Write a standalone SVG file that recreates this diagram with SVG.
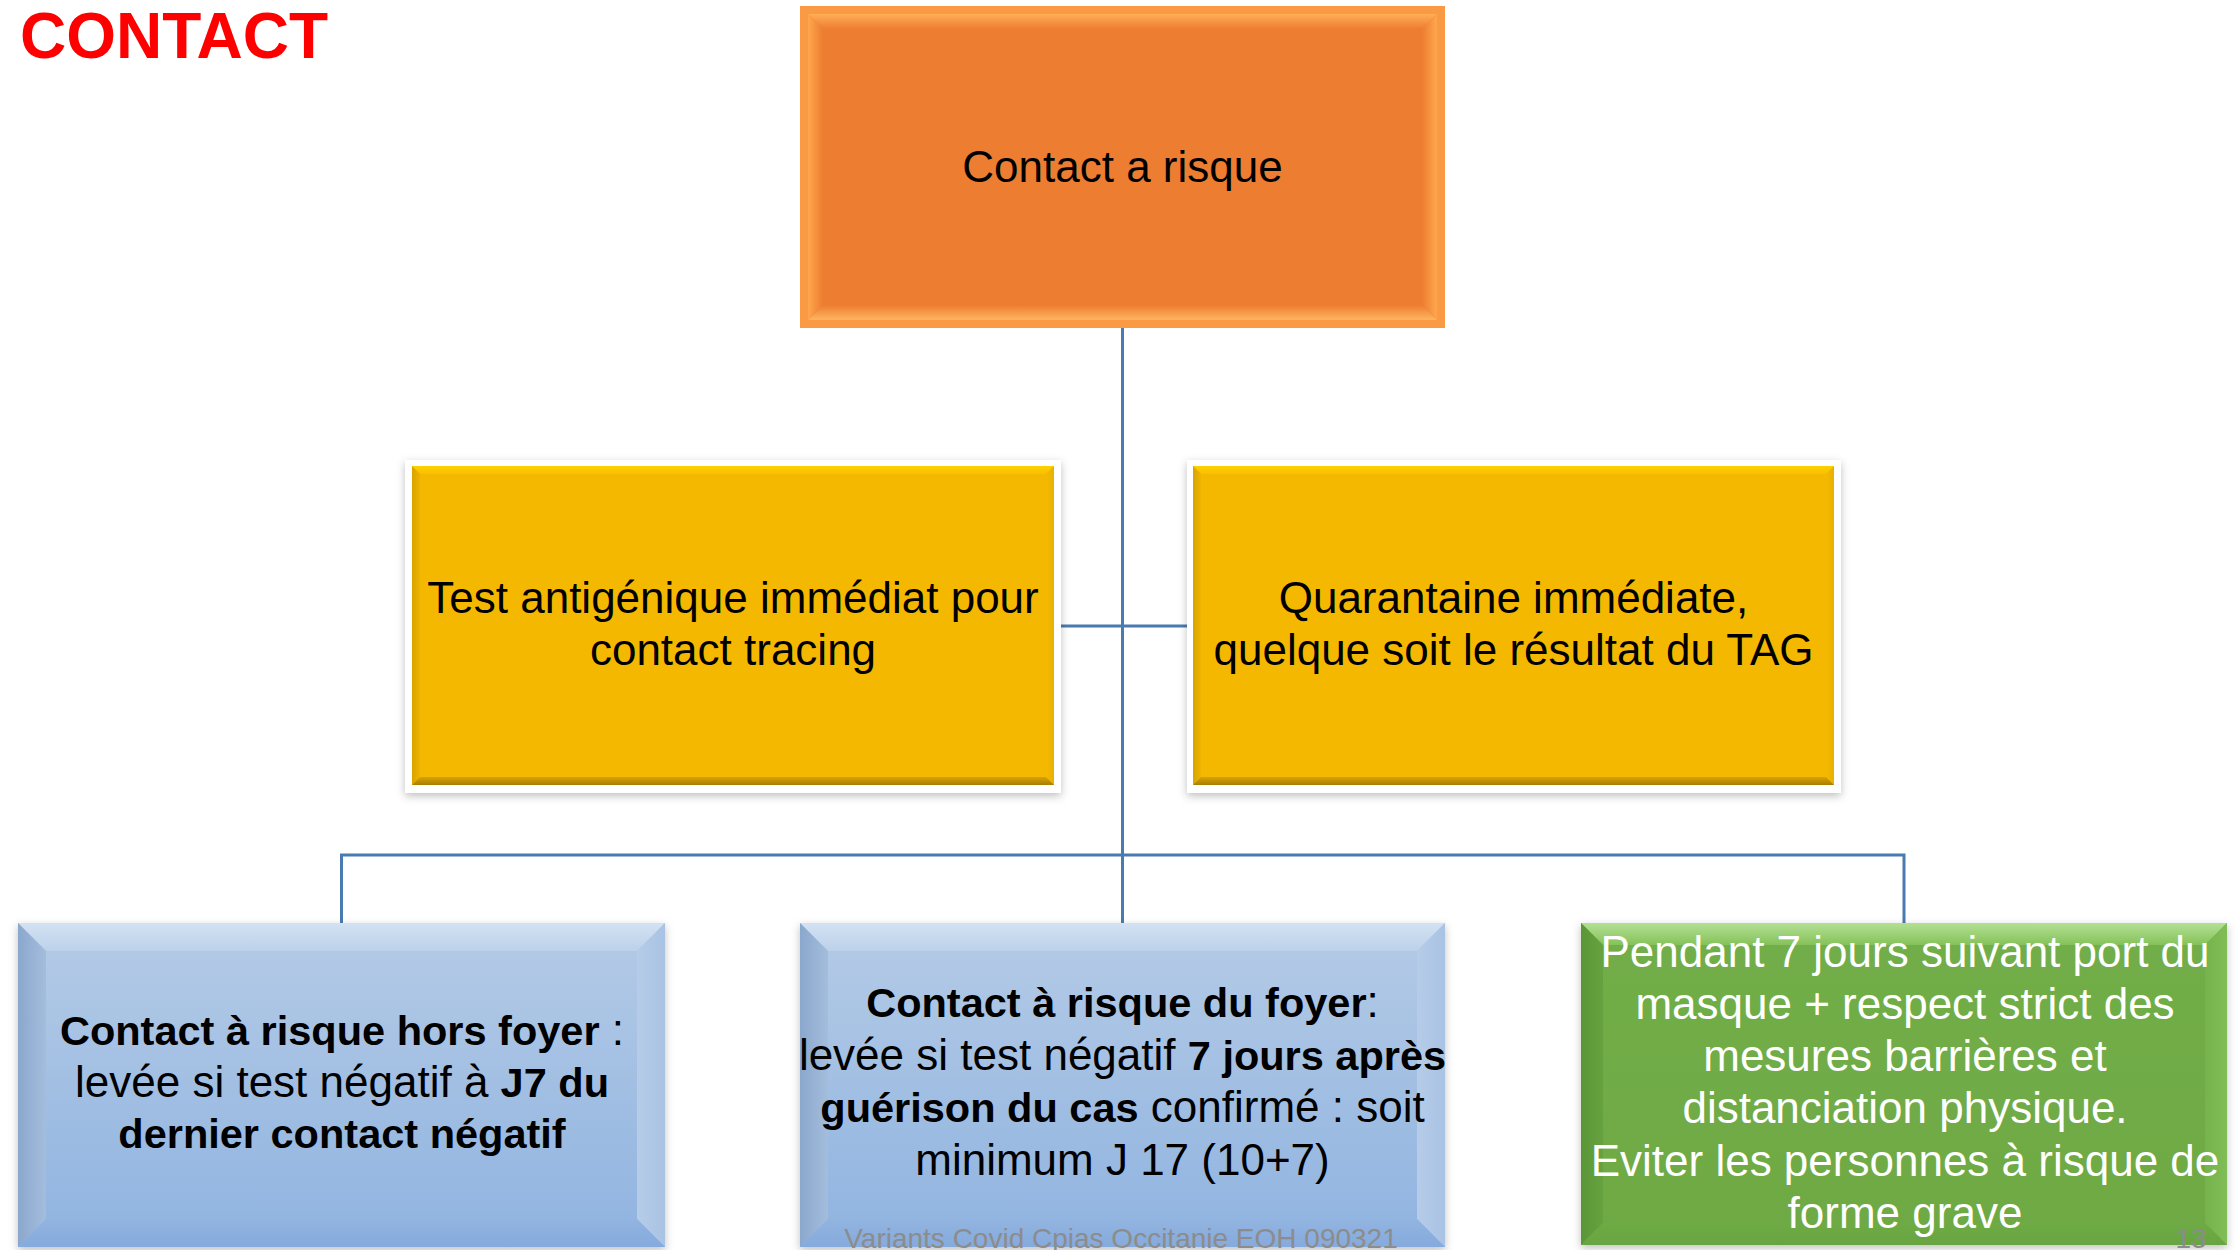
<svg xmlns="http://www.w3.org/2000/svg" width="2239" height="1250" viewBox="0 0 2239 1250">
<style>
.t{font-family:"Liberation Sans",Arial,sans-serif;font-size:44px;text-anchor:middle;fill:#000}
.w{fill:#fff}
.b{font-weight:bold;font-size:41.5px}
.foot{font-family:"Liberation Sans",Arial,sans-serif;font-size:28px;fill:#8c8c8c;text-anchor:middle}
.conn{fill:none;stroke:#4a7bb0;stroke-width:3}
</style>
<defs>
<filter id="sh" x="-5%" y="-5%" width="110%" height="115%">
<feDropShadow dx="0" dy="3" stdDeviation="4" flood-color="#000" flood-opacity="0.25"/>
</filter>
<linearGradient id="blueMain" x1="0" y1="0" x2="0" y2="1"><stop offset="0" stop-color="#b5cbe6"/><stop offset="1" stop-color="#8fb3e0"/></linearGradient>
<linearGradient id="blueTop" x1="0" y1="0" x2="0" y2="1"><stop offset="0" stop-color="#d3e2f3"/><stop offset="1" stop-color="#bcd1ea"/></linearGradient>
<linearGradient id="blueLeft" x1="0" y1="0" x2="1" y2="0"><stop offset="0" stop-color="#8aa7cd"/><stop offset="1" stop-color="#a4bddc"/></linearGradient>
<linearGradient id="blueRight" x1="1" y1="0" x2="0" y2="0"><stop offset="0" stop-color="#a9c3e4"/><stop offset="1" stop-color="#b6cce8"/></linearGradient>
<linearGradient id="blueBot" x1="0" y1="1" x2="0" y2="0"><stop offset="0" stop-color="#85aadc"/><stop offset="1" stop-color="#92b4e0"/></linearGradient>
<linearGradient id="grMain" x1="0" y1="0" x2="0" y2="1"><stop offset="0" stop-color="#72ae48"/><stop offset="1" stop-color="#6ea944"/></linearGradient>
<linearGradient id="grTop" x1="0" y1="0" x2="0" y2="1"><stop offset="0" stop-color="#b4e094"/><stop offset="1" stop-color="#85c25a"/></linearGradient>
<linearGradient id="grLeft" x1="0" y1="0" x2="1" y2="0"><stop offset="0" stop-color="#5a9636"/><stop offset="1" stop-color="#66a33f"/></linearGradient>
<linearGradient id="grRight" x1="1" y1="0" x2="0" y2="0"><stop offset="0" stop-color="#80bd56"/><stop offset="1" stop-color="#76b34c"/></linearGradient>
<linearGradient id="grBot" x1="0" y1="1" x2="0" y2="0"><stop offset="0" stop-color="#68a540"/><stop offset="1" stop-color="#6eab45"/></linearGradient>
<linearGradient id="orTop" x1="0" y1="0" x2="0" y2="1"><stop offset="0" stop-color="#ffae58"/><stop offset="1" stop-color="#ed7d31"/></linearGradient>
<linearGradient id="orLeft" x1="0" y1="0" x2="1" y2="0"><stop offset="0" stop-color="#ffa74e"/><stop offset="1" stop-color="#ed7d31"/></linearGradient>
<linearGradient id="orRight" x1="1" y1="0" x2="0" y2="0"><stop offset="0" stop-color="#ffa74e"/><stop offset="1" stop-color="#ed7d31"/></linearGradient>
<linearGradient id="orBot" x1="0" y1="1" x2="0" y2="0"><stop offset="0" stop-color="#ffb560"/><stop offset="1" stop-color="#ed7d31"/></linearGradient>
<linearGradient id="yeTop" x1="0" y1="0" x2="0" y2="1"><stop offset="0" stop-color="#ffd000"/><stop offset="1" stop-color="#f8c000"/></linearGradient>
<linearGradient id="yeLeft" x1="0" y1="0" x2="1" y2="0"><stop offset="0" stop-color="#d9a400"/><stop offset="1" stop-color="#eeb400"/></linearGradient>
<linearGradient id="yeRight" x1="1" y1="0" x2="0" y2="0"><stop offset="0" stop-color="#e8b000"/><stop offset="1" stop-color="#f5b900"/></linearGradient>
<linearGradient id="yeBot" x1="0" y1="1" x2="0" y2="0"><stop offset="0" stop-color="#a87e00"/><stop offset="1" stop-color="#d9a300"/></linearGradient>
</defs>
<rect width="2239" height="1250" fill="#fff"/>
<text x="20" y="58" font-family="'Liberation Sans',Arial,sans-serif" font-size="64" font-weight="bold" fill="#ff0000">CONTACT</text>

<g id="connectors">
<path class="conn" d="M1122.5,328 V923"/>
<path class="conn" d="M1061,626 H1187"/>
<path class="conn" d="M341.5,923 V855 H1904 V923"/>
</g>

<g id="node-top">
<rect x="800" y="6" width="645" height="322" fill="#fb9a44"/>
<rect x="808" y="14" width="629" height="306" fill="#ed7d31"/>
<polygon points="808,14 1437,14 1422,29 823,29" fill="url(#orTop)"/>
<polygon points="808,14 823,29 823,305 808,320" fill="url(#orLeft)"/>
<polygon points="1437,14 1437,320 1422,305 1422,29" fill="url(#orRight)"/>
<polygon points="808,320 1437,320 1422,305 823,305" fill="url(#orBot)"/>
<rect x="823" y="29" width="599" height="276" fill="#ed7d31"/>
<text class="t" x="1122.5" y="182">Contact a risque</text>
</g>

<g id="node-test">
<rect x="405" y="460" width="656" height="333" fill="#fff" filter="url(#sh)"/>
<rect x="412" y="466" width="642" height="319" fill="#f5b800"/>
<polygon points="412,466 1054,466 1046,474 420,474" fill="url(#yeTop)"/>
<polygon points="412,466 420,474 420,777 412,785" fill="url(#yeLeft)"/>
<polygon points="1054,466 1054,785 1046,777 1046,474" fill="url(#yeRight)"/>
<polygon points="412,785 1054,785 1046,777 420,777" fill="url(#yeBot)"/>
<text class="t" x="733" y="613">Test antigénique immédiat pour</text>
<text class="t" x="733" y="665">contact tracing</text>
</g>

<g id="node-quarantaine">
<rect x="1187" y="460" width="654" height="333" fill="#fff" filter="url(#sh)"/>
<rect x="1193" y="466" width="641" height="319" fill="#f5b800"/>
<polygon points="1193,466 1834,466 1826,474 1201,474" fill="url(#yeTop)"/>
<polygon points="1193,466 1201,474 1201,777 1193,785" fill="url(#yeLeft)"/>
<polygon points="1834,466 1834,785 1826,777 1826,474" fill="url(#yeRight)"/>
<polygon points="1193,785 1834,785 1826,777 1201,777" fill="url(#yeBot)"/>
<text class="t" x="1513.5" y="613">Quarantaine immédiate,</text>
<text class="t" x="1513.5" y="665">quelque soit le résultat du TAG</text>
</g>

<g id="node-hors-foyer">
<g filter="url(#sh)">
<rect x="18" y="923" width="647" height="324" fill="url(#blueMain)"/>
</g>
<polygon points="18,923 665,923 637,951 46,951" fill="url(#blueTop)"/>
<polygon points="18,923 46,951 46,1219 18,1247" fill="url(#blueLeft)"/>
<polygon points="665,923 665,1247 637,1219 637,951" fill="url(#blueRight)"/>
<polygon points="18,1247 665,1247 637,1219 46,1219" fill="url(#blueBot)"/>
<text class="t" x="342" y="1045"><tspan class="b">Contact à risque hors foyer</tspan> :</text>
<text class="t" x="342" y="1097">levée si test négatif à <tspan class="b">J7 du</tspan></text>
<text class="t b" x="342" y="1148">dernier contact négatif</text>
</g>

<g id="node-foyer">
<g filter="url(#sh)">
<rect x="800" y="923" width="645" height="324" fill="url(#blueMain)"/>
</g>
<polygon points="800,923 1445,923 1417,951 828,951" fill="url(#blueTop)"/>
<polygon points="800,923 828,951 828,1219 800,1247" fill="url(#blueLeft)"/>
<polygon points="1445,923 1445,1247 1417,1219 1417,951" fill="url(#blueRight)"/>
<polygon points="800,1247 1445,1247 1417,1219 828,1219" fill="url(#blueBot)"/>
<text class="t" x="1122.5" y="1017"><tspan class="b">Contact à risque du foyer</tspan>:</text>
<text class="t" x="1122.5" y="1070">levée si test négatif <tspan class="b">7 jours après</tspan></text>
<text class="t" x="1122.5" y="1122"><tspan class="b">guérison du cas</tspan> confirmé : soit</text>
<text class="t" x="1122.5" y="1175">minimum J 17 (10+7)</text>
</g>

<g id="node-mesures">
<g filter="url(#sh)">
<rect x="1581" y="923" width="646" height="322" fill="url(#grMain)"/>
</g>
<polygon points="1581,923 2227,923 2205,945 1603,945" fill="url(#grTop)"/>
<polygon points="1581,923 1603,945 1603,1223 1581,1245" fill="url(#grLeft)"/>
<polygon points="2227,923 2227,1245 2205,1223 2205,945" fill="url(#grRight)"/>
<polygon points="1581,1245 2227,1245 2205,1223 1603,1223" fill="url(#grBot)"/>
<text class="t w" x="1905" y="967">Pendant 7 jours suivant port du</text>
<text class="t w" x="1905" y="1019">masque + respect strict des</text>
<text class="t w" x="1905" y="1071">mesures barrières et</text>
<text class="t w" x="1905" y="1123">distanciation physique.</text>
<text class="t w" x="1905" y="1176">Eviter les personnes à risque de</text>
<text class="t w" x="1905" y="1228">forme grave</text>
</g>

<text class="foot" x="1121" y="1248">Variants Covid Cpias Occitanie EOH 090321</text>
<text class="foot" x="2191" y="1248">13</text>
</svg>
